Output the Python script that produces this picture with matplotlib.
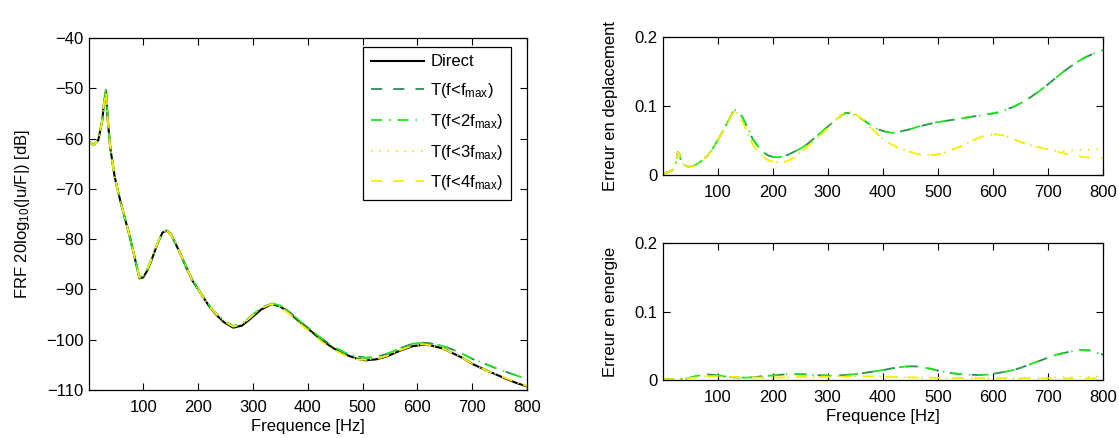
import matplotlib
matplotlib.use("Agg")
import matplotlib.pyplot as plt

plt.rcParams['font.family'] = ['Liberation Sans', 'DejaVu Sans']
plt.rcParams['mathtext.fontset'] = 'custom'
plt.rcParams['mathtext.rm'] = 'Liberation Sans'
plt.rcParams['mathtext.it'] = 'Liberation Sans'
plt.rcParams['mathtext.default'] = 'regular'
plt.rcParams['lines.scale_dashes'] = False

# ---------------- data: FRF (left) ----------------
freq_frf = [1, 10, 18, 25, 29, 32, 35, 40, 48, 55, 61, 68, 74, 84, 93, 100, 107, 115,
            126, 135, 143, 150, 159, 168, 178, 190, 205, 218, 231, 247, 264, 280, 296,
            315, 335, 350, 368, 388, 407, 427, 447, 470, 490, 506, 525, 545, 568, 591,
            610, 623, 645, 663, 682, 702, 728, 754, 778, 800]
frf_direct = [-60.6, -61.3, -60.3, -56.5, -52.5, -50.4, -56.0, -62.0, -67.7, -71.0, -73.6,
              -76.5, -78.9, -83.5, -87.8, -87.6, -86.3, -84.2, -80.9, -78.7, -78.3, -79.0,
              -80.9, -83.0, -85.5, -88.3, -90.8, -93.0, -94.8, -96.5, -97.6, -97.2, -95.8,
              -94.0, -92.9, -93.4, -94.8, -96.7, -98.4, -100.2, -101.7, -103.0, -103.8,
              -104.1, -103.9, -103.3, -102.2, -101.3, -101.0, -101.1, -101.7, -102.6,
              -103.6, -104.9, -106.2, -107.4, -108.5, -109.3]
frf_t1 = [-60.6, -61.3, -60.3, -56.5, -52.5, -50.4, -56.0, -62.0, -67.7, -71.0, -73.6,
          -76.5, -78.9, -83.5, -87.6, -87.3, -86.0, -84.0, -80.8, -78.6, -78.2, -78.9,
          -80.8, -82.9, -85.4, -88.2, -90.7, -92.9, -94.6, -96.2, -97.3, -96.8, -95.4,
          -93.6, -92.8, -93.2, -94.6, -96.5, -98.2, -99.9, -101.4, -102.7, -103.3,
          -103.6, -103.4, -102.8, -101.7, -100.8, -100.6, -100.7, -101.2, -101.9,
          -102.8, -103.9, -105.0, -106.1, -107.0, -107.8]
frf_t2 = [-60.6, -61.3, -60.3, -56.5, -52.5, -50.4, -56.0, -62.0, -67.7, -71.0, -73.6,
          -76.5, -78.9, -83.5, -87.6, -87.3, -86.0, -84.0, -80.8, -78.6, -78.2, -78.9,
          -80.8, -82.9, -85.4, -88.2, -90.7, -92.9, -94.6, -96.2, -97.3, -96.8, -95.4,
          -93.6, -92.8, -93.2, -94.6, -96.5, -98.2, -99.9, -101.4, -102.7, -103.3,
          -103.6, -103.4, -102.8, -101.7, -100.8, -100.6, -100.7, -101.2, -101.9,
          -102.8, -103.9, -105.0, -106.1, -107.0, -107.8]
frf_t3 = [-60.6, -61.3, -60.3, -56.5, -52.5, -50.4, -56.0, -62.0, -67.7, -71.0, -73.6,
          -76.5, -78.9, -83.5, -87.7, -87.4, -86.1, -84.0, -80.8, -78.6, -78.3, -79.0,
          -80.9, -83.0, -85.5, -88.3, -90.8, -93.0, -94.7, -96.3, -97.4, -97.0, -95.5,
          -93.7, -92.9, -93.5, -95.0, -97.0, -98.7, -100.5, -102.0, -103.2, -103.9,
          -104.0, -103.8, -103.2, -102.1, -101.2, -100.9, -101.1, -101.7, -102.6,
          -103.6, -104.9, -106.2, -107.3, -108.4, -109.2]
frf_t4 = [-60.6, -61.3, -60.3, -56.5, -52.5, -50.4, -56.0, -62.0, -67.7, -71.0, -73.6,
          -76.5, -78.9, -83.5, -87.7, -87.4, -86.1, -84.0, -80.8, -78.6, -78.3, -79.0,
          -80.9, -83.0, -85.5, -88.3, -90.8, -93.0, -94.7, -96.3, -97.4, -97.0, -95.5,
          -93.7, -92.9, -93.5, -95.0, -97.0, -98.7, -100.5, -102.0, -103.2, -103.9,
          -104.0, -103.8, -103.2, -102.1, -101.2, -100.9, -101.1, -101.7, -102.6,
          -103.6, -104.9, -106.2, -107.3, -108.4, -109.2]

# ---------------- data: displacement error (top right) ----------------
freq_dep = [1, 10, 18, 24, 28, 31, 34, 40, 47, 55, 63, 72, 82, 91, 100, 110, 120, 127,
            132, 138, 145, 155, 164, 174, 183, 193, 202, 214, 227, 240, 252, 265, 278,
            290, 303, 316, 328, 334, 343, 353, 366, 379, 392, 404, 417, 432, 448, 464,
            480, 495, 511, 527, 543, 558, 574, 590, 606, 622, 638, 653, 669, 685, 701,
            716, 732, 748, 764, 780, 800]
dep_t1 = [0.002, 0.004, 0.007, 0.016, 0.033, 0.030, 0.019, 0.014, 0.012, 0.013, 0.016,
          0.021, 0.028, 0.038, 0.050, 0.064, 0.079, 0.090, 0.094, 0.092, 0.084, 0.068,
          0.052, 0.041, 0.033, 0.028, 0.026, 0.026, 0.029, 0.034, 0.039, 0.046, 0.055,
          0.063, 0.072, 0.081, 0.088, 0.090, 0.089, 0.086, 0.079, 0.072, 0.066, 0.063,
          0.061, 0.063, 0.066, 0.070, 0.073, 0.076, 0.078, 0.080, 0.082, 0.084, 0.086,
          0.088, 0.090, 0.094, 0.099, 0.105, 0.113, 0.122, 0.132, 0.142, 0.152, 0.161,
          0.169, 0.175, 0.181]
dep_t2 = list(dep_t1)
dep_t3 = [0.002, 0.004, 0.007, 0.016, 0.033, 0.030, 0.019, 0.014, 0.012, 0.013, 0.016,
          0.021, 0.028, 0.038, 0.050, 0.064, 0.079, 0.089, 0.092, 0.088, 0.078, 0.060,
          0.044, 0.033, 0.026, 0.021, 0.019, 0.018, 0.020, 0.026, 0.034, 0.042, 0.051,
          0.060, 0.070, 0.081, 0.089, 0.091, 0.091, 0.087, 0.079, 0.068, 0.058, 0.050,
          0.044, 0.038, 0.034, 0.030, 0.029, 0.029, 0.032, 0.037, 0.042, 0.048, 0.054,
          0.058, 0.059, 0.057, 0.052, 0.047, 0.043, 0.040, 0.037, 0.035, 0.035, 0.036,
          0.036, 0.037, 0.038]
dep_t4 = [0.002, 0.004, 0.007, 0.016, 0.033, 0.030, 0.019, 0.014, 0.012, 0.013, 0.016,
          0.021, 0.028, 0.038, 0.050, 0.064, 0.079, 0.089, 0.092, 0.088, 0.078, 0.060,
          0.044, 0.033, 0.026, 0.021, 0.019, 0.018, 0.020, 0.026, 0.034, 0.042, 0.051,
          0.060, 0.070, 0.081, 0.089, 0.091, 0.091, 0.087, 0.079, 0.068, 0.058, 0.050,
          0.044, 0.038, 0.034, 0.030, 0.029, 0.029, 0.032, 0.037, 0.042, 0.048, 0.054,
          0.058, 0.059, 0.057, 0.052, 0.047, 0.043, 0.040, 0.037, 0.034, 0.031, 0.028,
          0.026, 0.025, 0.025]

# ---------------- data: energy error (bottom right) ----------------
freq_en = [1, 20, 44, 63, 82, 100, 115, 126, 140, 151, 165, 176, 192, 208, 224, 240,
           255, 265, 285, 303, 322, 341, 357, 372, 388, 404, 417, 429, 440, 451, 462,
           473, 489, 505, 521, 537, 555, 574, 590, 606, 622, 638, 653, 669, 685, 701,
           716, 732, 745, 758, 768, 777, 788, 800]
en_t1 = [0.001, 0.001, 0.002, 0.006, 0.008, 0.007, 0.005, 0.004, 0.0035, 0.0035, 0.004,
         0.005, 0.006, 0.0073, 0.0083, 0.0088, 0.0085, 0.0078, 0.007, 0.0063, 0.0068,
         0.0078, 0.0092, 0.011, 0.013, 0.015, 0.017, 0.0185, 0.0195, 0.020, 0.0197,
         0.0185, 0.016, 0.0127, 0.0105, 0.0088, 0.0078, 0.0073, 0.0078, 0.0098, 0.012,
         0.0146, 0.0185, 0.0234, 0.028, 0.033, 0.037, 0.040, 0.042, 0.044, 0.0435, 0.043,
         0.040, 0.037]
en_t2 = list(en_t1)
en_t3 = [0.001, 0.001, 0.002, 0.004, 0.005, 0.0055, 0.005, 0.0045, 0.004, 0.004, 0.0038,
         0.0035, 0.0035, 0.0037, 0.004, 0.0042, 0.0043, 0.0043, 0.0044, 0.0045, 0.0048,
         0.005, 0.0052, 0.0052, 0.005, 0.0048, 0.0045, 0.0042, 0.004, 0.0038, 0.0036,
         0.0034, 0.0032, 0.003, 0.003, 0.003, 0.003, 0.003, 0.003, 0.003, 0.003, 0.003,
         0.003, 0.0032, 0.0034, 0.0036, 0.0038, 0.004, 0.0042, 0.0044, 0.0046, 0.0048,
         0.005, 0.0052]
en_t4 = [0.001, 0.001, 0.002, 0.004, 0.005, 0.0055, 0.005, 0.0045, 0.004, 0.004, 0.0038,
         0.0035, 0.0035, 0.0037, 0.004, 0.0042, 0.0043, 0.0043, 0.0044, 0.0045, 0.0048,
         0.005, 0.0052, 0.0052, 0.005, 0.0048, 0.0045, 0.0042, 0.004, 0.0038, 0.0036,
         0.0034, 0.0032, 0.003, 0.003, 0.003, 0.003, 0.003, 0.003, 0.003, 0.0029, 0.0028,
         0.0028, 0.0027, 0.0027, 0.0026, 0.0026, 0.0026, 0.0025, 0.0025, 0.0025, 0.0025,
         0.0025, 0.0025]

labels = ['Direct', r'T(f<f$_{\mathrm{max}}$)', r'T(f<2f$_{\mathrm{max}}$)',
          r'T(f<3f$_{\mathrm{max}}$)', r'T(f<4f$_{\mathrm{max}}$)']
x_ticks = [100, 200, 300, 400, 500, 600, 700, 800]
frf_ticks = [-40, -50, -60, -70, -80, -90, -100, -110]
err_ticks = [0, 0.1, 0.2]

# ---------------- styles ----------------
LW = 1.3
styles = [
    dict(color='black', linestyle='-', linewidth=1.5),
    dict(color='#2e8b57', linestyle=(0, (8, 8)), linewidth=LW),
    dict(color='#1ee61e', linestyle=(0, (8, 5, 1, 5)), linewidth=LW),
    dict(color='#ccf000', linestyle=(0, (1, 5)), linewidth=LW),
    dict(color='#f5f000', linestyle=(0, (8, 8)), linewidth=LW),
]
FS = 12
W, H = 1119, 438

fig = plt.figure(figsize=(W / 100, H / 100), dpi=100)
ax1 = fig.add_axes([89 / W, 1 - 390 / H, 438 / W, 352 / H])
ax2 = fig.add_axes([663 / W, 1 - 175 / H, 440 / W, 138 / H])
ax3 = fig.add_axes([663 / W, 1 - 380 / H, 440 / W, 137 / H])


def style_axes(ax):
    ax.tick_params(direction='in', top=True, right=True, length=5, width=0.8,
                   labelsize=FS)
    ax.tick_params(axis='y', pad=4)
    ax.tick_params(axis='x', pad=7)
    for s in ax.spines.values():
        s.set_linewidth(0.9)
    ax.set_xlim(1, 800)
    ax.set_xticks(x_ticks)


series_frf = [frf_direct, frf_t1, frf_t2, frf_t3, frf_t4]
for vals, st, lab in zip(series_frf, styles, labels):
    ax1.plot(freq_frf, vals, label=lab, **st)
style_axes(ax1)
ax1.set_ylim(-110, -40)
ax1.set_yticks(frf_ticks)
ax1.set_yticklabels([str(t).replace('-', '\u2212') for t in frf_ticks])
ax1.set_xlabel('Frequence [Hz]', fontsize=FS, labelpad=3)
ax1.set_ylabel(r'FRF 20log$_{10}$(|u/F|) [dB]', fontsize=FS, labelpad=10)
leg = ax1.legend(loc='upper left', bbox_to_anchor=((363 - 89) / 438, (390 - 47) / 352),
                 fontsize=FS, fancybox=False, edgecolor='black', framealpha=1,
                 handlelength=3.2, labelspacing=0.7, borderpad=0.45,
                 handletextpad=0.4, borderaxespad=0)
leg.get_frame().set_linewidth(0.9)

for vals, st in zip([dep_t1, dep_t2, dep_t3, dep_t4], styles[1:]):
    ax2.plot(freq_dep, vals, **st)
style_axes(ax2)
ax2.set_ylim(0, 0.2)
ax2.set_yticks(err_ticks)
ax2.set_yticklabels(['0', '0.1', '0.2'])
ax2.set_ylabel('Erreur en deplacement', fontsize=FS, labelpad=12)

for vals, st in zip([en_t1, en_t2, en_t3, en_t4], styles[1:]):
    ax3.plot(freq_en, vals, **st)
style_axes(ax3)
ax3.set_ylim(0, 0.2)
ax3.set_yticks(err_ticks)
ax3.set_yticklabels(['0', '0.1', '0.2'])
ax3.set_ylabel('Erreur en energie', fontsize=FS, labelpad=12)
ax3.set_xlabel('Frequence [Hz]', fontsize=FS, labelpad=3)

fig.savefig('out.png', dpi=100)
